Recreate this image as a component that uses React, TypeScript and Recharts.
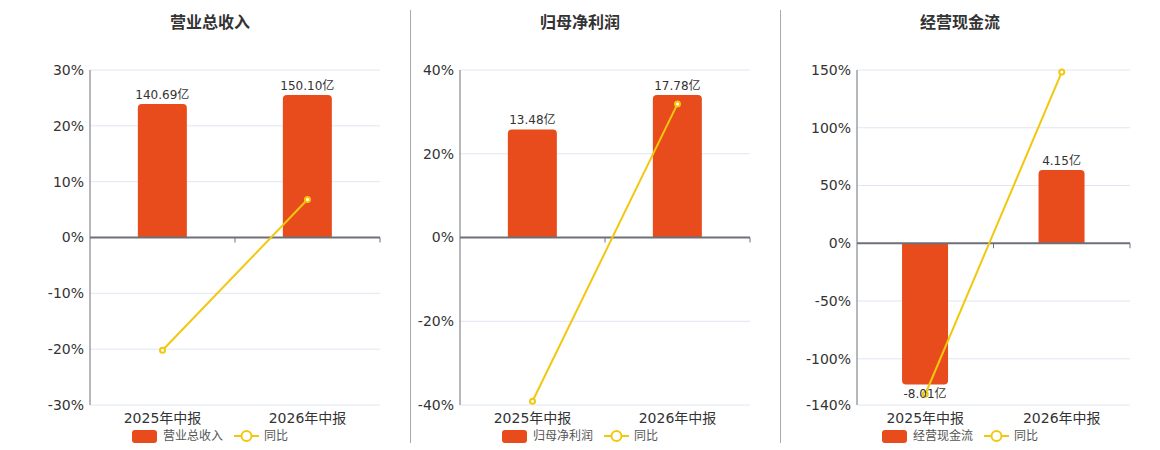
import React from 'react';
import { ComposedChart, Bar, Line, XAxis, YAxis, CartesianGrid, ReferenceLine, LabelList } from 'recharts';

const categories = ['2025年中报', '2026年中报'];

const revenue = [140.69, 150.1];
const revenueYoy = [-20.2, 6.8];
const revenueTicks = [-30, -20, -10, 0, 10, 20, 30];

const profit = [13.48, 17.78];
const profitYoy = [-39.1, 31.9];
const profitTicks = [-40, -20, 0, 20, 40];

const cash = [-8.01, 4.15];
const cashYoy = [-130.7, 148.2];
const cashTicks = [-140, -100, -50, 0, 50, 100, 150];

const BAR_COLOR = '#E84B1C';
const LINE_COLOR = '#F2C80F';
const AXIS_COLOR = '#6E7079';
const FONT = "'DejaVu Sans', 'Noto Sans CJK SC', sans-serif";

const ZeroLine = (p: any) => {
  const { x1, y1, x2 } = p;
  const mid = (x1 + x2) / 2;
  return (
    <g>
      <line x1={x1} y1={y1} x2={x2} y2={y1} stroke={AXIS_COLOR} strokeWidth={2} />
      <line x1={mid} y1={y1} x2={mid} y2={y1 + 5} stroke={AXIS_COLOR} strokeWidth={1} />
      <line x1={x2} y1={y1} x2={x2} y2={y1 + 5} stroke={AXIS_COLOR} strokeWidth={1} />
    </g>
  );
};

const LegendRow = ({ name }: { name: string }) => (
  <div style={{ display: 'flex', alignItems: 'center', justifyContent: 'center', fontSize: 12, color: '#555', fontFamily: FONT, lineHeight: '16px' }}>
    <svg width={25} height={13} style={{ marginRight: 6 }}>
      <rect x={0} y={0} width={25} height={13} rx={3} fill={BAR_COLOR} />
    </svg>
    <span>{name}</span>
    <svg width={25} height={14} style={{ marginLeft: 11, marginRight: 5 }}>
      <line x1={0} y1={7} x2={25} y2={7} stroke={LINE_COLOR} strokeWidth={2} />
      <circle cx={12.5} cy={7} r={5} fill="#fff" stroke={LINE_COLOR} strokeWidth={2} />
    </svg>
    <span>同比</span>
  </div>
);

type PanelProps = {
  title: string;
  amounts: number[];
  yoy: number[];
  ticks: number[];
  barDomain: [number, number];
  left: number;
  width: number;
  axisWidth: number;
  centerLeft: number;
  centerWidth: number;
};

const Panel = ({ title, amounts, yoy, ticks, barDomain, left, width, axisWidth, centerLeft, centerWidth }: PanelProps) => {
  const data = categories.map((name, i) => ({ name, amount: amounts[i], yoy: yoy[i] }));
  return (
    <>
      <div style={{ position: 'absolute', left: centerLeft, width: centerWidth, top: 13, textAlign: 'center', fontSize: 16, fontWeight: 'bold', color: '#333', fontFamily: FONT, lineHeight: '20px' }}>
        {title}
      </div>
      <div style={{ position: 'absolute', left, top: 0 }}>
        <ComposedChart width={width} height={450} data={data} margin={{ top: 70, right: 30, bottom: 15, left: 0 }} barCategoryGap="33%">
          <CartesianGrid yAxisId="pct" vertical={false} stroke="#E0E6F1" />
          <XAxis dataKey="name" tickLine={false} axisLine={false} height={30} tick={{ fontSize: 14, fill: '#333', fontFamily: FONT }} />
          <YAxis
            yAxisId="pct"
            domain={[ticks[0], ticks[ticks.length - 1]]}
            ticks={ticks}
            interval={0}
            width={axisWidth}
            tickFormatter={(v: number) => `${v}%`}
            tickLine={false}
            tickSize={4}
            tickMargin={2}
            axisLine={{ stroke: AXIS_COLOR }}
            tick={{ fontSize: 14, fill: '#333', fontFamily: FONT }}
          />
          <YAxis yAxisId="bar" orientation="right" hide domain={barDomain} allowDataOverflow />
          <Bar yAxisId="bar" dataKey="amount" fill={BAR_COLOR} radius={[4, 4, 0, 0]} isAnimationActive={false}>
            <LabelList
              dataKey="amount"
              position="top"
              offset={5}
              formatter={(v: any) => `${Number(v).toFixed(2)}亿`}
              style={{ fontSize: 12, fill: '#333', fontFamily: FONT }}
            />
          </Bar>
          <ReferenceLine yAxisId="pct" y={0} shape={ZeroLine} />
          <Line
            yAxisId="pct"
            dataKey="yoy"
            stroke={LINE_COLOR}
            strokeWidth={2}
            dot={{ r: 2.5, fill: '#fff', stroke: LINE_COLOR, strokeWidth: 2 }}
            isAnimationActive={false}
          />
        </ComposedChart>
      </div>
      <div style={{ position: 'absolute', left: centerLeft, width: centerWidth, top: 428 }}>
        <LegendRow name={title} />
      </div>
    </>
  );
};

export default function App() {
  return (
    <div style={{ position: 'absolute', left: 0, top: 0, width: 1160, height: 450, background: '#fff', overflow: 'hidden' }}>
      <Panel title="营业总收入" amounts={revenue} yoy={revenueYoy} ticks={revenueTicks} barDomain={[-176.4, 176.4]}
        left={0} width={410} axisWidth={90} centerLeft={40} centerWidth={340} />
      <Panel title="归母净利润" amounts={profit} yoy={profitYoy} ticks={profitTicks} barDomain={[-20.9, 20.9]}
        left={410} width={370} axisWidth={50} centerLeft={410} centerWidth={340} />
      <Panel title="经营现金流" amounts={cash} yoy={cashYoy} ticks={cashTicks} barDomain={[-9.17, 9.825]}
        left={780} width={380} axisWidth={77} centerLeft={780} centerWidth={360} />
      <div style={{ position: 'absolute', left: 410, top: 10, width: 1, height: 433, background: '#aaa' }} />
      <div style={{ position: 'absolute', left: 780, top: 10, width: 1, height: 433, background: '#aaa' }} />
    </div>
  );
}
